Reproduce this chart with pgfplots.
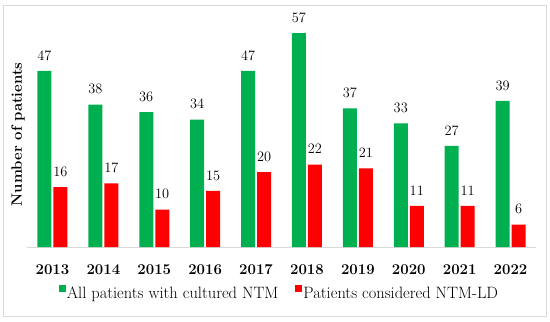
\documentclass[border=0pt]{standalone}
\usepackage{fontspec}
\usepackage{pgfplots}
\pgfplotsset{compat=1.18}
\definecolor{bargreen}{HTML}{00B050}
\definecolor{barred}{HTML}{FF0000}
\definecolor{framegray}{HTML}{D9D9D9}
\begin{document}
\begin{tikzpicture}[x=1bp,y=1bp]
\useasboundingbox (0,0) rectangle (550,321);
\draw[framegray, line width=0.8bp] (3,5) rectangle (546,316);
\begin{axis}[
  at={(27bp,74bp)}, anchor=south west,
  scale only axis, width=509bp, height=225bp,
  ymin=0, ymax=60, xmin=-0.5, xmax=9.5,
  ybar, bar width=14bp,
  axis lines*=left,
  x axis line style={draw=framegray, -, line width=0.8bp},
  y axis line style={draw=none},
  ytick=\empty,
  xtick={0,...,9},
  xticklabels={2013,2014,2015,2016,2017,2018,2019,2020,2021,2022},
  xtick style={draw=none},
  xticklabel style={font=\fontsize{15}{18}\selectfont\bfseries, yshift=-10bp},
  ylabel={Number of patients},
  ylabel style={font=\fontsize{15}{18}\selectfont\bfseries, at={(axis description cs:-0.0177,0.5)}, anchor=center, rotate=0},
  nodes near coords,
  every node near coord/.append style={font=\fontsize{14.5}{17}\selectfont, text=black, yshift=7bp},
  clip=false,
  legend columns=2,
  legend style={draw=none, fill=none, at={(axis description cs:0.495,-0.204)}, anchor=center,
    font=\fontsize{16.5}{20}\selectfont,
    /tikz/every even column/.append style={column sep=16bp},
    nodes={inner sep=1bp}},
  legend image code/.code={\fill[#1] (0bp,1bp) rectangle (7bp,8bp);},
]
\addplot[fill=bargreen, draw=none, bar shift=-8bp] coordinates {(0,47) (1,38) (2,36) (3,34) (4,47) (5,57) (6,37) (7,33) (8,27) (9,39)};
\addplot[fill=barred, draw=none, bar shift=8bp] coordinates {(0,16) (1,17) (2,10) (3,15) (4,20) (5,22) (6,21) (7,11) (8,11) (9,6)};
\legend{All patients with cultured NTM, Patients considered NTM-LD}
\end{axis}
\end{tikzpicture}
\end{document}
